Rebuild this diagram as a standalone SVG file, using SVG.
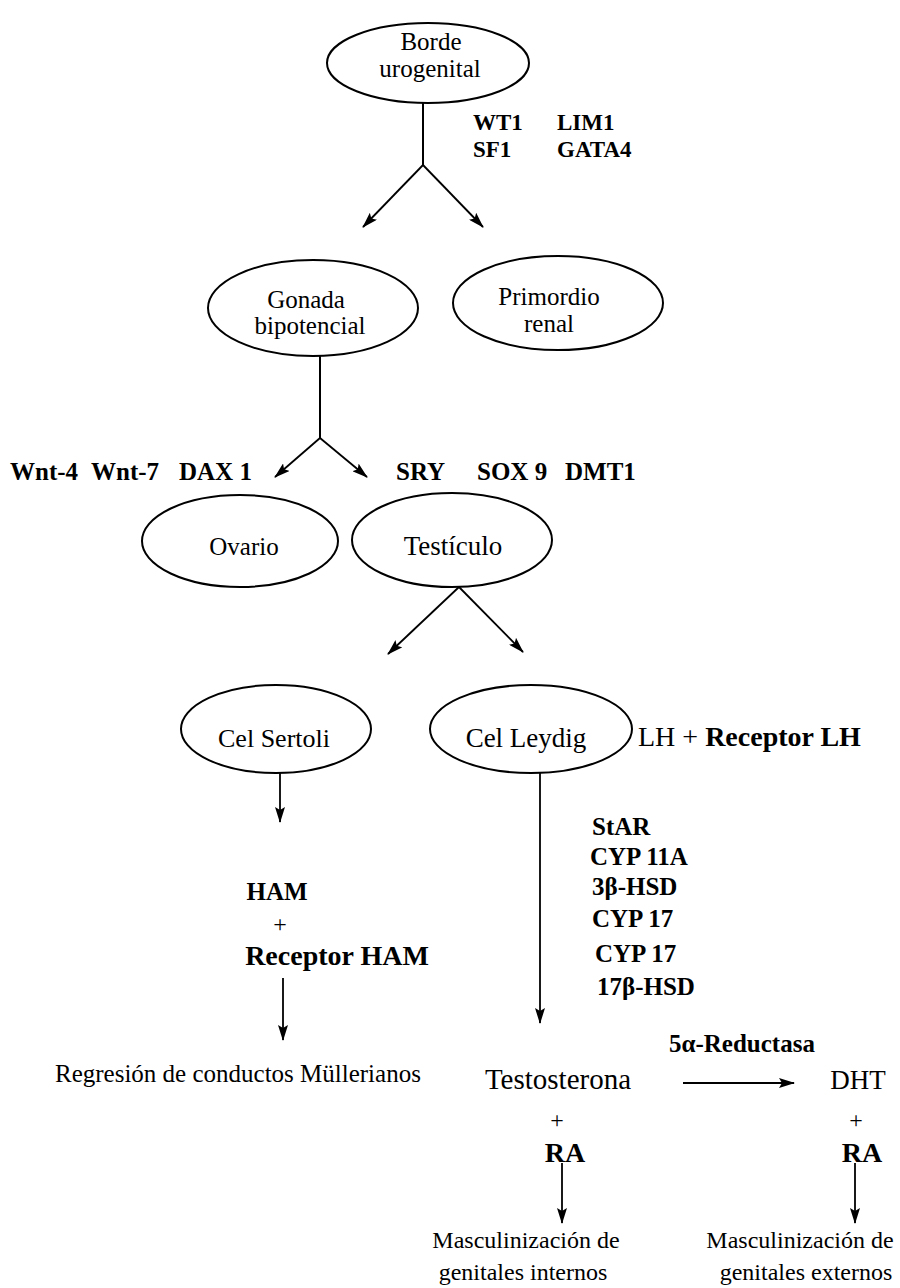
<svg xmlns="http://www.w3.org/2000/svg" width="900" height="1288" viewBox="0 0 900 1288">
<defs>
<marker id="ah" markerWidth="16" markerHeight="10" refX="15" refY="5" orient="auto" markerUnits="userSpaceOnUse">
<path d="M0,0 L16,5 L0,10 L3,5 Z" fill="#000"/>
</marker>
<style>
.n{fill:none;stroke:#000;stroke-width:2}
.t{font-family:"Liberation Serif","Times New Roman",serif;font-size:25px;fill:#000;text-anchor:middle}
.b{font-family:"Liberation Serif","Times New Roman",serif;font-size:25px;font-weight:700;fill:#000}
.s{font-size:23px}
.c{stroke:#000;stroke-width:2;fill:none}
.a{stroke:#000;stroke-width:1.8;fill:none;marker-end:url(#ah)}
</style>
</defs>
<rect width="900" height="1288" fill="#fff"/>
<g id="borde"><ellipse class="n" cx="428" cy="63" rx="101" ry="40"/><text class="t" x="431" y="50">Borde</text><text class="t" x="430" y="77">urogenital</text></g>
<g id="gonada"><ellipse class="n" cx="313" cy="308" rx="105" ry="48"/><text class="t" x="306" y="308">Gonada</text><text class="t" x="310" y="334">bipotencial</text></g>
<g id="primordio"><ellipse class="n" cx="558" cy="303" rx="105" ry="47"/><text class="t" x="549" y="305">Primordio</text><text class="t" x="549" y="332">renal</text></g>
<g id="ovario"><ellipse class="n" cx="240" cy="541" rx="98" ry="46"/><text class="t" x="244" y="555">Ovario</text></g>
<g id="testiculo"><ellipse class="n" cx="452" cy="540" rx="100" ry="47"/><text class="t" x="453" y="555" style="font-size:27px">Testículo</text></g>
<g id="sertoli"><ellipse class="n" cx="276" cy="729" rx="95" ry="44"/><text class="t" x="274" y="747" style="font-size:26px">Cel Sertoli</text></g>
<g id="leydig"><ellipse class="n" cx="531" cy="729" rx="101" ry="44"/><text class="t" x="526" y="747" style="font-size:27px">Cel Leydig</text></g>
<g id="labels">
<text class="b s" x="473" y="130">WT1</text><text class="b s" x="557" y="130">LIM1</text>
<text class="b s" x="473" y="157">SF1</text><text class="b s" x="557" y="157">GATA4</text>
<text class="b" x="10" y="480">Wnt-4</text><text class="b" x="91" y="480">Wnt-7</text><text class="b" x="179" y="480">DAX 1</text>
<text class="b" x="396" y="480">SRY</text><text class="b" x="477" y="480">SOX 9</text><text class="b" x="565" y="480">DMT1</text>
<text class="t" x="638" y="746" style="text-anchor:start;font-size:28px">LH + <tspan font-weight="bold">Receptor LH</tspan></text>
<text class="b" x="277" y="900" text-anchor="middle">HAM</text>
<text class="t" x="280" y="932" style="font-size:24px">+</text>
<text class="b" x="337" y="965" text-anchor="middle" style="font-size:28px">Receptor HAM</text>
<text class="b" x="592" y="835">StAR</text>
<text class="b" x="590" y="865">CYP 11A</text>
<text class="b" x="592" y="895">3β-HSD</text>
<text class="b" x="592" y="927">CYP 17</text>
<text class="b" x="595" y="962">CYP 17</text>
<text class="b" x="597" y="995">17β-HSD</text>
<text class="t" x="55" y="1082" style="text-anchor:start">Regresión de conductos Müllerianos</text>
<text class="b" x="669" y="1052">5α-Reductasa</text>
<text class="t" x="558" y="1089" style="font-size:29px">Testosterona</text>
<text class="t" x="858" y="1089" style="font-size:27px">DHT</text>
<text class="t" x="557" y="1128" style="font-size:24px">+</text>
<text class="t" x="856" y="1128" style="font-size:24px">+</text>
<text class="b" x="565" y="1162" text-anchor="middle" style="font-size:28px">RA</text>
<text class="b" x="862" y="1162" text-anchor="middle" style="font-size:28px">RA</text>
<text class="t" x="526" y="1248" style="font-size:24px">Masculinización de</text>
<text class="t" x="523" y="1280" style="font-size:24px">genitales internos</text>
<text class="t" x="800" y="1248" style="font-size:24px">Masculinización de</text>
<text class="t" x="806" y="1280" style="font-size:24px">genitales externos</text>
</g>
<g id="connectors">
<path class="c" d="M423,103 V165"/>
<path class="a" d="M423,165 L363,227"/>
<path class="a" d="M423,165 L483,227"/>
<path class="c" d="M320,356 V438"/>
<path class="a" d="M320,438 L275,477"/>
<path class="a" d="M320,438 L367,477"/>
<path class="a" d="M459,587 L388,654"/>
<path class="a" d="M459,587 L523,652"/>
<path class="a" d="M280,773 V822"/>
<path class="a" d="M283,978 V1040"/>
<path class="a" d="M540,773 V1023"/>
<path class="a" d="M683,1083 H794"/>
<path class="a" d="M562,1163 V1223"/>
<path class="a" d="M855,1163 V1223"/>
</g>
</svg>
